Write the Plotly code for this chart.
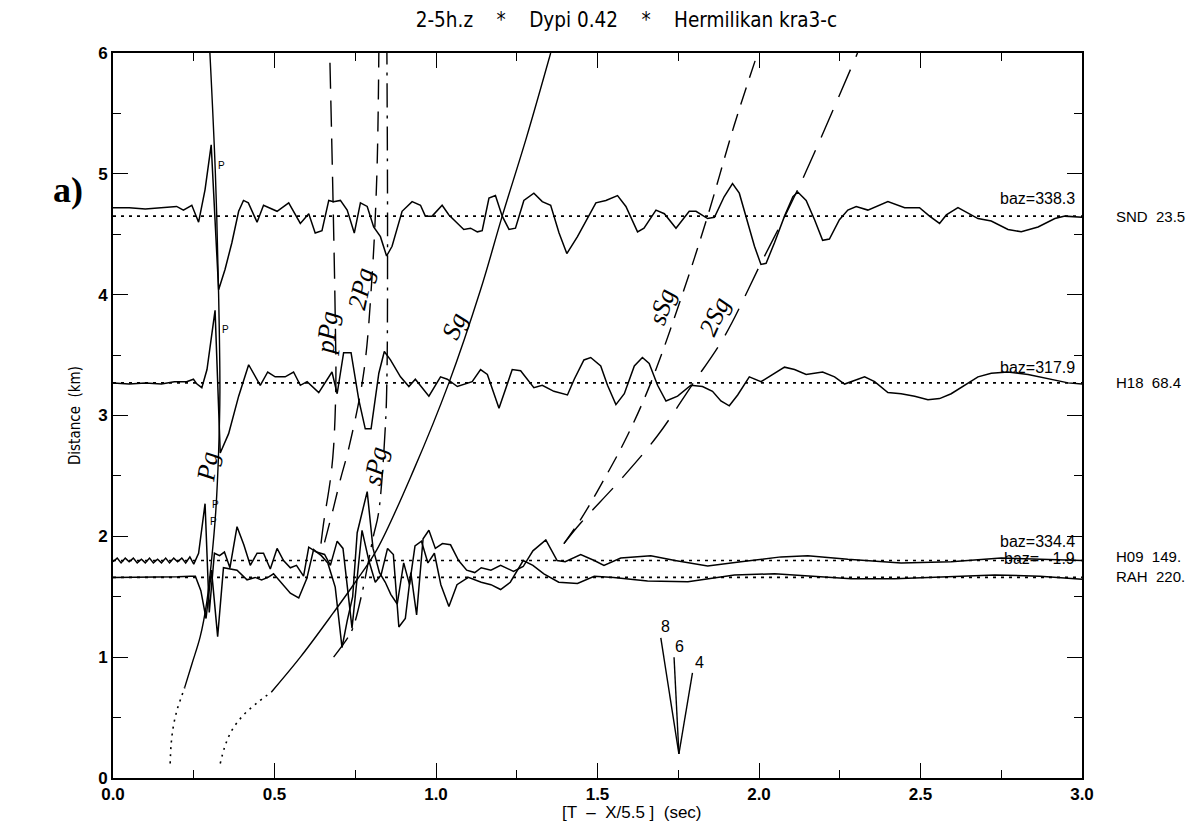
import plotly.graph_objects as go

# ---------------- data ----------------
TITLE = "2-5h.z    *    Dypi 0.42    *    Hermilikan kra3-c"
XTITLE = "[T  –  X/5.5 ]  (sec)"
YTITLE = "Distance  (km)"

stations = ["SND", "H18", "H09", "RAH"]
station_dist = ["23.5", "68.4", "149.", "220."]
baz_labels = ["baz=338.3", "baz=317.9", "baz=334.4", "baz=   1.9"]
baselines = [4.65, 3.27, 1.80, 1.66]

SND_x = [0.0, 0.05, 0.10, 0.15, 0.197, 0.218, 0.244, 0.265, 0.285, 0.304, 0.327, 0.347, 0.368, 0.389,
         0.404, 0.419, 0.446, 0.466, 0.508, 0.544, 0.580, 0.606, 0.626, 0.647, 0.668, 0.683, 0.704,
         0.725, 0.747, 0.766, 0.787, 0.807, 0.828, 0.847, 0.864, 0.895, 0.926, 0.952, 0.967, 0.988,
         1.019, 1.040, 1.066, 1.086, 1.107, 1.128, 1.143, 1.164, 1.184, 1.205, 1.226, 1.246, 1.272,
         1.303, 1.329, 1.355, 1.381, 1.405, 1.438, 1.469, 1.495, 1.526, 1.562, 1.588, 1.624, 1.644,
         1.681, 1.707, 1.743, 1.784, 1.805, 1.841, 1.862, 1.892, 1.918, 1.939, 1.965, 1.986, 2.006,
         2.022, 2.048, 2.079, 2.105, 2.120, 2.146, 2.172, 2.197, 2.218, 2.249, 2.275, 2.301, 2.337,
         2.399, 2.451, 2.497, 2.528, 2.559, 2.580, 2.616, 2.642, 2.678, 2.719, 2.771, 2.812, 2.864,
         2.916, 2.947, 3.0]
SND_y = [4.72, 4.72, 4.71, 4.72, 4.73, 4.70, 4.74, 4.60, 4.87, 5.24, 4.04, 4.21, 4.43, 4.69,
         4.78, 4.76, 4.60, 4.74, 4.69, 4.76, 4.59, 4.67, 4.51, 4.53, 4.78, 4.77, 4.78,
         4.70, 4.51, 4.76, 4.73, 4.56, 4.48, 4.32, 4.40, 4.69, 4.77, 4.74, 4.65, 4.65,
         4.74, 4.66, 4.59, 4.54, 4.55, 4.52, 4.53, 4.80, 4.82, 4.65, 4.54, 4.55, 4.78,
         4.84, 4.77, 4.74, 4.51, 4.34, 4.48, 4.63, 4.76, 4.78, 4.82, 4.73, 4.52, 4.55,
         4.70, 4.67, 4.55, 4.69, 4.69, 4.63, 4.64, 4.81, 4.92, 4.84, 4.59, 4.40, 4.25,
         4.26, 4.43, 4.65, 4.81, 4.85, 4.78, 4.62, 4.45, 4.46, 4.62, 4.70, 4.73, 4.70,
         4.77, 4.72, 4.72, 4.65, 4.59, 4.66, 4.72, 4.68, 4.63, 4.61, 4.54, 4.52, 4.56,
         4.63, 4.65, 4.64]

H18_x = [0.0, 0.05, 0.10, 0.15, 0.19, 0.228, 0.249, 0.260, 0.275, 0.291, 0.316, 0.332, 0.358, 0.389,
         0.420, 0.456, 0.479, 0.502, 0.533, 0.559, 0.580, 0.601, 0.637, 0.678, 0.694, 0.714, 0.737,
         0.761, 0.781, 0.799, 0.823, 0.840, 0.859, 0.890, 0.916, 0.936, 0.978, 1.014, 1.035, 1.066,
         1.112, 1.138, 1.159, 1.195, 1.236, 1.262, 1.303, 1.329, 1.365, 1.407, 1.428, 1.458, 1.479,
         1.510, 1.531, 1.557, 1.583, 1.614, 1.639, 1.660, 1.686, 1.712, 1.748, 1.789, 1.825, 1.856,
         1.882, 1.908, 1.934, 1.970, 2.006, 2.037, 2.079, 2.110, 2.146, 2.197, 2.234, 2.265, 2.296,
         2.327, 2.358, 2.399, 2.440, 2.482, 2.523, 2.559, 2.595, 2.637, 2.678, 2.719, 2.771, 2.833,
         2.905, 2.957, 3.0]
H18_y = [3.27, 3.26, 3.27, 3.26, 3.28, 3.28, 3.30, 3.26, 3.23, 3.38, 3.87, 2.69, 2.85, 3.16,
         3.42, 3.25, 3.36, 3.32, 3.32, 3.36, 3.25, 3.28, 3.19, 3.36, 3.18, 3.52, 3.52,
         3.13, 2.89, 2.89, 3.35, 3.53, 3.46, 3.32, 3.24, 3.30, 3.16, 3.32, 3.30, 3.24,
         3.28, 3.38, 3.34, 3.06, 3.38, 3.37, 3.23, 3.25, 3.20, 3.17, 3.30, 3.46, 3.48,
         3.41, 3.25, 3.09, 3.18, 3.41, 3.48, 3.43, 3.25, 3.12, 3.16, 3.25, 3.24, 3.20,
         3.12, 3.08, 3.17, 3.32, 3.28, 3.33, 3.40, 3.38, 3.34, 3.36, 3.32, 3.26, 3.29,
         3.32, 3.28, 3.19, 3.18, 3.16, 3.13, 3.14, 3.18, 3.25, 3.32, 3.35, 3.36, 3.34,
         3.30, 3.27, 3.26]

H09_x = [0.000, 0.013, 0.025, 0.038, 0.050, 0.063, 0.075, 0.088, 0.100, 0.113, 0.125, 0.138, 0.150,
         0.163, 0.175, 0.188, 0.200, 0.213, 0.225, 0.238, 0.250, 0.265, 0.285, 0.298, 0.314, 0.330,
         0.345, 0.362, 0.384, 0.405, 0.425, 0.446, 0.466, 0.487, 0.508, 0.528, 0.549, 0.568, 0.590,
         0.606, 0.630, 0.655, 0.673, 0.694, 0.712, 0.740, 0.771, 0.792, 0.812, 0.830, 0.850, 0.868,
         0.885, 0.905, 0.922, 0.940, 0.960, 0.978, 0.998, 1.020, 1.045, 1.070, 1.095, 1.120, 1.140,
         1.170, 1.200, 1.240, 1.270, 1.300, 1.340, 1.375, 1.400, 1.448, 1.490, 1.520, 1.572, 1.665,
         1.740, 1.841, 1.944, 2.068, 2.151, 2.275, 2.440, 2.595, 2.750, 2.905, 3.0]
H09_y = [1.79, 1.82, 1.78, 1.82, 1.79, 1.82, 1.78, 1.81, 1.78, 1.82, 1.78, 1.81, 1.78,
         1.82, 1.78, 1.82, 1.79, 1.82, 1.78, 1.83, 1.77, 1.86, 2.27, 1.37, 1.86, 1.84,
         1.87, 1.74, 2.08, 1.93, 1.76, 1.86, 1.86, 1.73, 1.90, 1.80, 1.74, 1.76, 1.67,
         1.91, 1.87, 1.85, 1.76, 1.96, 1.90, 1.24, 2.05, 1.80, 1.62, 1.68, 1.90, 1.85,
         1.25, 1.32, 1.70, 1.35, 1.98, 2.05, 1.90, 1.94, 1.93, 1.80, 1.72, 1.70, 1.74,
         1.72, 1.76, 1.71, 1.75, 1.88, 1.97, 1.80, 1.79, 1.85, 1.80, 1.76, 1.82, 1.84,
         1.80, 1.755, 1.79, 1.83, 1.84, 1.81, 1.78, 1.79, 1.82, 1.805, 1.80]

RAH_x = [0.000, 0.05, 0.10, 0.15, 0.20, 0.24, 0.255, 0.272, 0.288, 0.305, 0.324, 0.342, 0.362, 0.384,
         0.415, 0.440, 0.460, 0.480, 0.497, 0.520, 0.549, 0.575, 0.600, 0.621, 0.645, 0.665, 0.688,
         0.709, 0.725, 0.742, 0.756, 0.787, 0.805, 0.825, 0.843, 0.860, 0.880, 0.900, 0.918, 0.935,
         0.955, 0.975, 0.995, 1.015, 1.040, 1.065, 1.100, 1.140, 1.170, 1.200, 1.230, 1.270, 1.300,
         1.334, 1.380, 1.438, 1.490, 1.550, 1.655, 1.780, 1.924, 2.048, 2.170, 2.285, 2.420, 2.595,
         2.730, 2.870, 3.0]
RAH_y = [1.66, 1.66, 1.665, 1.66, 1.665, 1.67, 1.67, 1.55, 1.32, 1.72, 1.17, 1.74, 1.73, 1.72,
         1.64, 1.66, 1.64, 1.66, 1.69, 1.62, 1.53, 1.49, 1.65, 1.89, 1.84, 1.78, 1.58,
         1.08, 1.30, 1.50, 2.03, 2.37, 1.90, 1.70, 1.62, 1.52, 1.44, 1.78, 1.60, 1.92,
         1.96, 1.78, 1.86, 1.60, 1.42, 1.60, 1.66, 1.62, 1.60, 1.56, 1.62, 1.80, 1.76,
         1.69, 1.62, 1.61, 1.67, 1.66, 1.63, 1.625, 1.68, 1.69, 1.667, 1.65, 1.65, 1.67,
         1.68, 1.67, 1.645]

# travel-time curves (reduced time, distance)
Pg_dot_x = [0.177, 0.180, 0.187, 0.199, 0.213, 0.222]
Pg_dot_y = [0.12, 0.28, 0.43, 0.57, 0.68, 0.75]
Pg_x = [0.222, 0.245, 0.270, 0.290, 0.305, 0.318, 0.327, 0.331, 0.327, 0.317, 0.300]
Pg_y = [0.75, 0.95, 1.17, 1.45, 1.80, 2.20, 2.70, 3.20, 4.00, 5.00, 6.00]

Sg_dot_x = [0.332, 0.345, 0.365, 0.400, 0.445, 0.490]
Sg_dot_y = [0.12, 0.25, 0.38, 0.51, 0.62, 0.71]
Sg_x = [0.490, 0.580, 0.683, 0.750, 0.817, 0.931, 1.040, 1.138, 1.205, 1.280, 1.355]
Sg_y = [0.71, 1.00, 1.37, 1.62, 1.89, 2.55, 3.27, 4.04, 4.65, 5.30, 6.00]

pPg_x = [0.644, 0.652, 0.673, 0.683, 0.690, 0.688, 0.681, 0.671]
pPg_y = [1.94, 2.11, 2.47, 2.74, 3.27, 3.82, 4.81, 6.00]

P2g_x = [0.655, 0.683, 0.704, 0.730, 0.776, 0.802, 0.817, 0.823]
P2g_y = [1.95, 2.24, 2.47, 2.73, 3.35, 4.15, 5.00, 6.00]

sPg_x = [0.683, 0.729, 0.744, 0.771, 0.806, 0.822, 0.843, 0.848, 0.850, 0.848]
sPg_y = [1.00, 1.17, 1.25, 1.53, 2.00, 2.19, 2.90, 3.30, 4.50, 6.00]

sSg_x = [1.396, 1.448, 1.520, 1.592, 1.665, 1.760, 1.841, 1.923, 1.996]
sSg_y = [1.94, 2.14, 2.47, 2.83, 3.27, 3.98, 4.65, 5.40, 6.00]

S2g_x = [1.396, 1.448, 1.572, 1.685, 1.792, 1.892, 2.006, 2.120, 2.305]
S2g_y = [1.94, 2.11, 2.47, 2.83, 3.25, 3.65, 4.26, 4.87, 6.00]

# phase labels: text, x, y, angle
phase_text = ["Pg", "pPg", "2Pg", "sPg", "Sg", "sSg", "2Sg"]
phase_x = [0.292, 0.662, 0.768, 0.812, 1.055, 1.700, 1.862]
phase_y = [2.58, 3.68, 4.05, 2.58, 3.74, 3.90, 3.82]
phase_ang = [-82, -84, -78, -80, -68, -72, -66]

# fan of velocity lines (apparent velocity 8, 6, 4)
fan_labels = ["8", "6", "4"]
fan_origin = (1.752, 0.20)
fan_end_x = [1.696, 1.737, 1.794]
fan_end_y = [1.16, 1.00, 0.87]
fan_lab_x = [1.712, 1.755, 1.815]
fan_lab_y = [1.25, 1.09, 0.96]

# small "P" picks
pick_x = [0.337, 0.347, 0.316, 0.310]
pick_y = [5.07, 3.71, 2.26, 2.12]

# ---------------- figure ----------------
fig = go.Figure()
BLK = "black"

def line(x, y, dash="solid", width=1.4, shape="linear"):
    fig.add_trace(go.Scatter(x=x, y=y, mode="lines", showlegend=False, hoverinfo="skip",
                             line=dict(color=BLK, width=width, dash=dash, shape=shape)))

# dotted baselines
for b in baselines:
    line([0, 3], [b, b], dash="3px,5px", width=1.6)

# seismograms
for tx, ty in [(SND_x, SND_y), (H18_x, H18_y), (H09_x, H09_y), (RAH_x, RAH_y)]:
    line(tx, ty, width=1.5)

# travel-time curves
line(Pg_dot_x, Pg_dot_y, dash="2px,5px", width=1.6, shape="spline")
line(Pg_x, Pg_y, width=1.4, shape="spline")
line(Sg_dot_x, Sg_dot_y, dash="2px,5px", width=1.6, shape="spline")
line(Sg_x, Sg_y, width=1.4, shape="spline")
line(pPg_x, pPg_y, dash="26px,12px", width=1.4, shape="spline")
line(P2g_x, P2g_y, dash="20px,12px", width=1.4, shape="spline")
line(sPg_x, sPg_y, dash="24px,8px,3px,8px", width=1.4, shape="spline")
line(sSg_x, sSg_y, dash="18px,10px", width=1.4, shape="spline")
line(S2g_x, S2g_y, dash="30px,14px", width=1.4, shape="spline")

# velocity fan
for ex, ey in zip(fan_end_x, fan_end_y):
    line([fan_origin[0], ex], [fan_origin[1], ey], width=1.4)

SANS = "Liberation Sans, Arial, sans-serif"
SERIF = "Liberation Serif, Times New Roman, serif"
NARROW = "Liberation Sans Narrow, DejaVu Sans Condensed, Liberation Sans, sans-serif"

ann = []
for t, x, y, a in zip(phase_text, phase_x, phase_y, phase_ang):
    ann.append(dict(x=x, y=y, xref="x", yref="y", text="<i>" + t + "</i>", showarrow=False,
                    textangle=a, font=dict(family=SERIF, size=26, color=BLK)))
for t, x, y in zip(fan_labels, fan_lab_x, fan_lab_y):
    ann.append(dict(x=x, y=y, xref="x", yref="y", text=t, showarrow=False,
                    font=dict(family=SANS, size=16, color=BLK)))
for x, y in zip(pick_x, pick_y):
    ann.append(dict(x=x, y=y, xref="x", yref="y", text="P", showarrow=False,
                    font=dict(family=SANS, size=10, color=BLK)))

baz_y = [4.71, 3.31, 1.87, 1.73]
for t, yb in zip(baz_labels, baz_y):
    ann.append(dict(x=2.985, y=yb, xref="x", yref="y", text=t, showarrow=False,
                    xanchor="right", yanchor="bottom",
                    font=dict(family=SANS, size=16, color=BLK)))
st_y = [4.65, 3.27, 1.83, 1.67]
for s, d, yb in zip(stations, station_dist, st_y):
    ann.append(dict(x=1.033, y=yb, xref="paper", yref="y", text=s + "&nbsp;&nbsp;" + d,
                    showarrow=False, xanchor="left", yanchor="middle",
                    font=dict(family=SANS, size=15, color=BLK)))

ann.append(dict(x=-0.046, y=0.811, xref="paper", yref="paper", text="<b>a)</b>", showarrow=False,
                xanchor="center", yanchor="middle",
                font=dict(family=SERIF, size=36, color=BLK)))

# x axis title
ann.append(dict(x=0.536, y=-0.0475, xref="paper", yref="paper", text=XTITLE, showarrow=False,
                xanchor="center", yanchor="middle",
                font=dict(family=SANS, size=17, color=BLK)))

fig.update_layout(
    width=1187, height=819,
    margin=dict(l=105, r=113, t=45, b=49, autoexpand=False),
    paper_bgcolor="white", plot_bgcolor="white",
    title=dict(text=TITLE, x=0.521, xanchor="center", y=0.985, yanchor="middle",
               font=dict(family=NARROW, size=20.5, color=BLK)),
    annotations=ann,
    xaxis=dict(range=[0, 3], dtick=0.5, tick0=0, tickformat=".1f", ticks="inside", ticklen=15,
               tickwidth=1.3, tickcolor=BLK, showline=True, linecolor=BLK, linewidth=1.6,
               mirror="allticks", showgrid=False, zeroline=False, automargin=False,
               minor=dict(dtick=0.25, ticks="inside", ticklen=8, tickcolor=BLK, tickwidth=1.2),
               tickfont=dict(family=SANS, size=17, color=BLK, weight="bold")),
    yaxis=dict(range=[0, 6], dtick=1, tick0=0, ticks="inside", ticklen=15,
               tickwidth=1.3, tickcolor=BLK, showline=True, linecolor=BLK, linewidth=1.6,
               mirror="allticks", showgrid=False, zeroline=False, automargin=False,
               minor=dict(dtick=0.5, ticks="inside", ticklen=8, tickcolor=BLK, tickwidth=1.2),
               tickfont=dict(family=SANS, size=17, color=BLK, weight="bold"),
               title=dict(text=YTITLE, standoff=14,
                          font=dict(family=NARROW, size=15, color=BLK))),
)

fig.write_html("out.html")
